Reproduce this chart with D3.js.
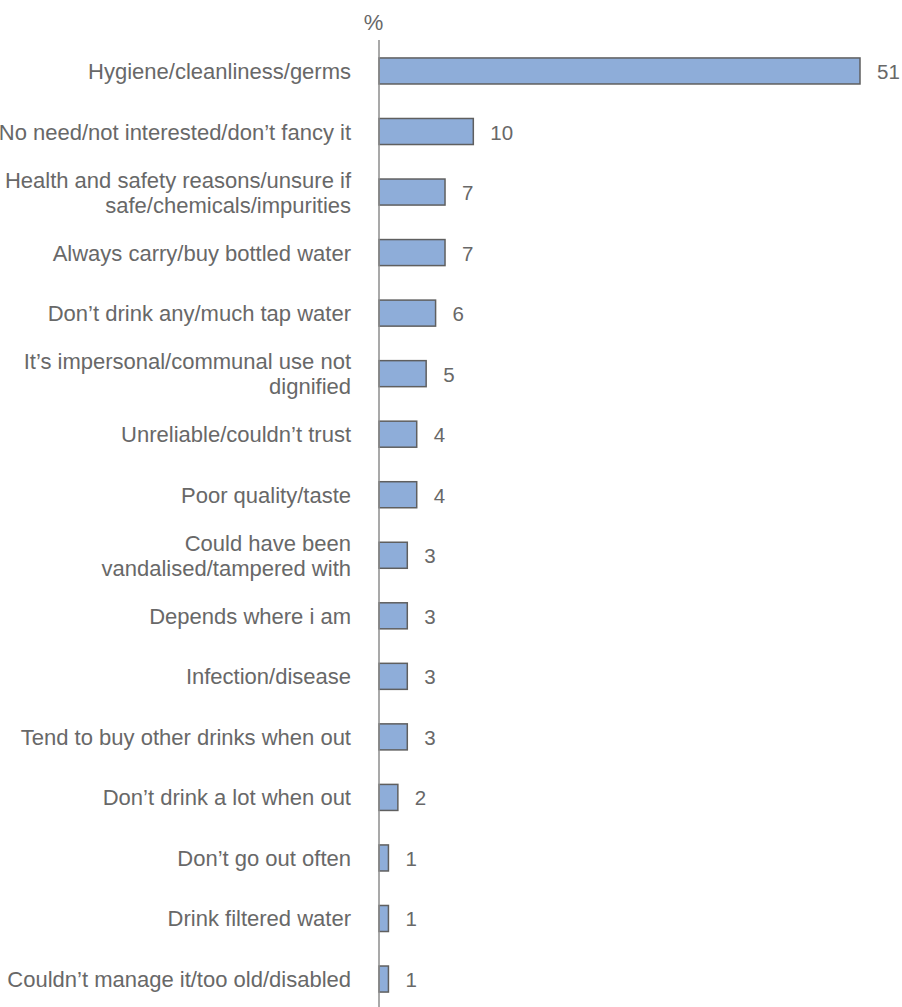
<!DOCTYPE html>
<html><head><meta charset="utf-8">
<script src="https://cdn.jsdelivr.net/npm/d3@7"></script>
<style>body{margin:0;background:#fff;}svg{display:block;}</style>
</head><body>
<script>
const categories = [
  ["Hygiene/cleanliness/germs"],
  ["No need/not interested/don\u2019t fancy it"],
  ["Health and safety reasons/unsure if", "safe/chemicals/impurities"],
  ["Always carry/buy bottled water"],
  ["Don\u2019t drink any/much tap water"],
  ["It\u2019s impersonal/communal use not", "dignified"],
  ["Unreliable/couldn\u2019t trust"],
  ["Poor quality/taste"],
  ["Could have been", "vandalised/tampered with"],
  ["Depends where i am"],
  ["Infection/disease"],
  ["Tend to buy other drinks when out"],
  ["Don\u2019t drink a lot when out"],
  ["Don\u2019t go out often"],
  ["Drink filtered water"],
  ["Couldn\u2019t manage it/too old/disabled"]
];
const values = [51, 10, 7, 7, 6, 5, 4, 4, 3, 3, 3, 3, 2, 1, 1, 1];
const axisTitle = "%";

const W = 902, H = 1007;
const svg = d3.select("body").append("svg").attr("width", W).attr("height", H);
const x0 = 379;
const x = d3.scaleLinear().domain([0, 51]).range([x0, 860]);
const idx = d3.range(values.length);
const y = d3.scaleBand().domain(idx).range([40.7, 1009.3]).paddingInner(0.57).paddingOuter(0.285);

const font = "Liberation Sans, Arial, sans-serif";
const txt = "#686868";

svg.selectAll("rect.bar").data(idx).join("rect")
  .attr("x", x0).attr("y", i => y(i))
  .attr("width", i => x(values[i]) - x0).attr("height", y.bandwidth())
  .attr("fill", "#8eadd9").attr("stroke", "#5f5f5f").attr("stroke-width", 1.5);

svg.append("line").attr("x1", x0).attr("x2", x0).attr("y1", 40).attr("y2", 1007)
  .attr("stroke", "#8c8c8c").attr("stroke-width", 1.5);

svg.append("text").attr("x", 373.5).attr("y", 30).attr("text-anchor", "middle")
  .attr("font-family", font).attr("font-size", 22).attr("fill", txt).text(axisTitle);

const lh = 25;
svg.selectAll("text.cat").data(idx).join("text")
  .attr("class", "cat")
  .attr("font-family", font).attr("font-size", 22).attr("fill", txt)
  .attr("text-anchor", "end")
  .each(function(i) {
    const lines = categories[i];
    const cy = y(i) + y.bandwidth() / 2;
    const start = cy - (lines.length - 1) * lh / 2 + 8;
    d3.select(this).selectAll("tspan").data(lines).join("tspan")
      .attr("x", 351).attr("y", (d, k) => start + k * lh).text(d => d);
  });

svg.selectAll("text.val").data(idx).join("text")
  .attr("class", "val")
  .attr("x", i => x(values[i]) + 17)
  .attr("y", i => y(i) + y.bandwidth() / 2 + 8)
  .attr("font-family", font).attr("font-size", 20.5).attr("fill", txt)
  .text(i => values[i]);
</script>
</body></html>
